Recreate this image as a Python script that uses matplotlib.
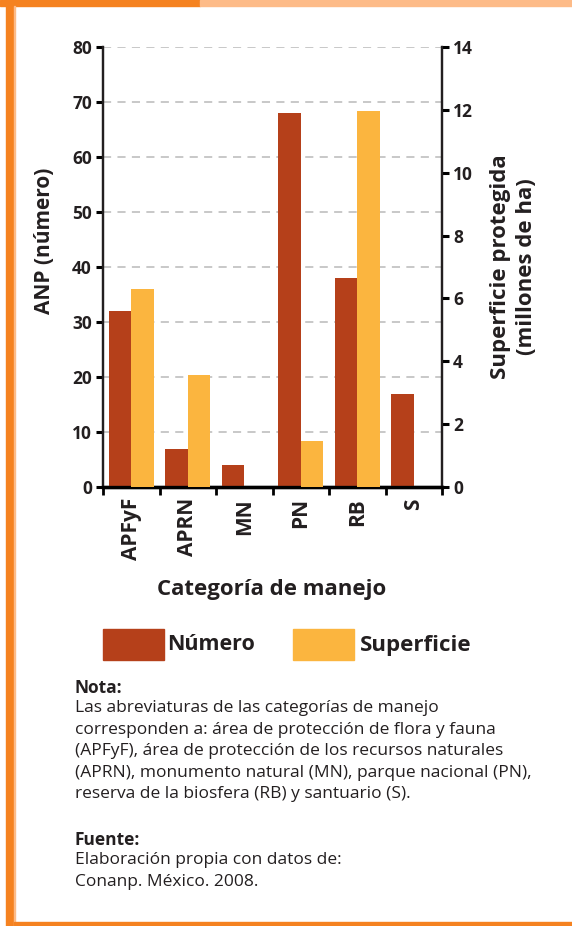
import matplotlib
matplotlib.use("Agg")
import matplotlib.pyplot as plt
from matplotlib.patches import Rectangle
import numpy as np

# data
categorias = ["APFyF", "APRN", "MN", "PN", "RB", "S"]
numero = [32, 7, 4, 68, 38, 17]                  # ANP (número), left axis
superficie = [6.3, 3.55, 0.0, 1.45, 11.95, 0.0]   # millones de ha, right axis
ticks_izq = [0, 10, 20, 30, 40, 50, 60, 70, 80]
ticks_der = [0, 2, 4, 6, 8, 10, 12, 14]

ROJO = "#B5401A"
AMARILLO = "#FBB53F"
NARANJA = "#F58220"
NARANJA_CLARO = "#FDBB88"
TXT = "#231F20"

plt.rcParams["font.family"] = ["Open Sans", "DejaVu Sans"]

W, H = 572, 926
fig = plt.figure(figsize=(W / 100, H / 100), dpi=100)


def fx(px):
    return px / W


def fy(py):
    return 1 - py / H


# page frame
fig.patches.append(Rectangle((0, fy(6)), fx(200), 6 / H, transform=fig.transFigure,
                             color=NARANJA, zorder=0))
fig.patches.append(Rectangle((fx(200), fy(6)), 1 - fx(200), 6 / H, transform=fig.transFigure,
                             color=NARANJA_CLARO, zorder=0))
fig.patches.append(Rectangle((fx(6), 0), 8 / W, fy(6), transform=fig.transFigure,
                             color=NARANJA, zorder=0))
fig.patches.append(Rectangle((fx(14), 0), 1 / W, fy(6), transform=fig.transFigure,
                             color=NARANJA_CLARO, zorder=0))
fig.patches.append(Rectangle((fx(14), fy(925)), 1 - fx(14), 3 / H, transform=fig.transFigure,
                             color=NARANJA, zorder=0))

ax = fig.add_axes([fx(103), fy(487), fx(442) - fx(103), fy(47) - fy(487)])
ax2 = ax.twinx()

x = np.arange(len(categorias))
w = 0.4
ax.bar(x - w / 2, numero, w, color=ROJO, zorder=3)
ax2.bar(x + w / 2, superficie, w, color=AMARILLO, zorder=3)

ax.set_xlim(-0.5, len(categorias) - 0.5)
ax.set_ylim(0, 80)
ax2.set_ylim(0, 14)
ax.set_yticks(ticks_izq)
ax2.set_yticks(ticks_der)
for t in ticks_izq[1:]:
    ax.axhline(t, color="#C4C4C4", lw=1.3, ls=(0, (4.5, 3.5)), zorder=1)

ax.set_xticks(x)
ax.set_xticklabels(categorias, rotation=90, fontsize=15, fontweight="bold", color=TXT)
ax.set_xticks(np.arange(-0.5, len(categorias)), minor=True)
ax.tick_params(axis="x", which="major", length=0, pad=8)
ax.tick_params(axis="x", which="minor", length=6, width=2, color="black", direction="out")

for a in (ax, ax2):
    a.spines["top"].set_visible(False)
    a.spines["left"].set_linewidth(1.6)
    a.spines["right"].set_linewidth(1.6)
    a.spines["left"].set_color(TXT)
    a.spines["right"].set_color(TXT)
    a.spines["bottom"].set_linewidth(2.4)
    a.spines["bottom"].set_color("black")
ax.set_zorder(2)
ax2.set_zorder(3)
ax.patch.set_visible(False)
ax2.patch.set_visible(False)
ax.tick_params(axis="y", length=5, width=2.2, color="black", pad=3)
ax2.tick_params(axis="y", length=5, width=2.2, color="black", pad=3)
for lab in ax.get_yticklabels() + ax2.get_yticklabels():
    lab.set_fontsize(12.5)
    lab.set_fontweight("bold")
    lab.set_color(TXT)

# left label sits a bit above the axis centre, as in the reference
ax.set_ylabel("ANP (número)", fontsize=15, fontweight="bold", color=TXT)
ax.yaxis.set_label_coords(-0.142, 0.559)
ax2.set_ylabel("Superficie protegida\n(millones de ha)", fontsize=16, fontweight="bold",
               color=TXT, rotation=90, linespacing=1.3)
ax2.yaxis.set_label_coords(1.142, 0.5)

fig.text(fx(272), fy(589), "Categoría de manejo", ha="center", va="center",
         fontsize=16, fontweight="bold", color=TXT)

# legend
fig.patches.append(Rectangle((fx(103), fy(660)), 61 / W, 31 / H, transform=fig.transFigure,
                             color=ROJO))
fig.text(fx(167), fy(645), "Número", ha="left", va="center", fontsize=15.5,
         fontweight="bold", color=TXT)
fig.patches.append(Rectangle((fx(293), fy(660)), 61 / W, 31 / H, transform=fig.transFigure,
                             color=AMARILLO))
fig.text(fx(360), fy(645), "Superficie", ha="left", va="center", fontsize=16,
         fontweight="bold", color=TXT)

nota = ("Las abreviaturas de las categorías de manejo\n"
        "corresponden a: área de protección de flora y fauna\n"
        "(APFyF), área de protección de los recursos naturales\n"
        "(APRN), monumento natural (MN), parque nacional (PN),\n"
        "reserva de la biosfera (RB) y santuario (S).")
fuente = "Elaboración propia con datos de:\nConanp. México. 2008."

fig.text(fx(75), fy(688), "Nota:", ha="left", va="center", fontsize=12.5,
         fontweight="bold", color=TXT)
fig.text(fx(75), fy(700), nota, ha="left", va="top", fontsize=12.5, color=TXT,
         linespacing=1.46)
fig.text(fx(75), fy(840), "Fuente:", ha="left", va="center", fontsize=12.5,
         fontweight="bold", color=TXT)
fig.text(fx(75), fy(852), fuente, ha="left", va="top", fontsize=12.5, color=TXT,
         linespacing=1.46)

fig.savefig("out.png", dpi=100)
